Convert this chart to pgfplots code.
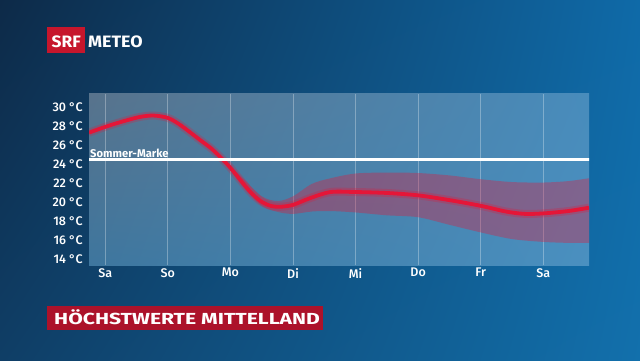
\documentclass[border=0pt]{standalone}
\usepackage{fontspec}
\setmainfont{Fira Sans}
\IfFontExistsTF{Fira Sans Medium}{\newfontfamily\medf{Fira Sans Medium}}{\newfontfamily\medf{Fira Sans}}
\usepackage{pgfplots}
\pgfplotsset{compat=1.18}
\usetikzlibrary{shadings}
\definecolor{bgTL}{RGB}{13,42,72}
\definecolor{bgTR}{RGB}{15,106,168}
\definecolor{bgBL}{RGB}{15,62,102}
\definecolor{bgBR}{RGB}{18,112,172}
\definecolor{pnTL}{RGB}{88,115,140}
\definecolor{pnTR}{RGB}{72,140,188}
\definecolor{pnBL}{RGB}{62,118,158}
\definecolor{pnBR}{RGB}{74,144,192}
\definecolor{lineRed}{RGB}{228,22,56}
\definecolor{logoRed}{RGB}{198,22,44}
\definecolor{titleRed}{RGB}{172,18,42}
\begin{document}
\begin{tikzpicture}[x=1pt,y=1pt]
\shade[upper left=bgTL, upper right=bgTR, lower left=bgBL, lower right=bgBR] (0,0) rectangle (640,360);
\shade[upper left=pnTL, upper right=pnTR, lower left=pnBL, lower right=pnBR] (89,95) rectangle (589,266.5);
\begin{axis}[
  at={(89pt,95pt)}, anchor=south west,
  scale only axis, width=500pt, height=171.5pt,
  xmin=-0.26, xmax=7.73, ymin=13.37, ymax=31.42,
  axis line style={draw=none}, tick style={draw=none},
  xtick={0,1,2,3,4,5,6,7},
  xticklabels={Sa,So,Mo,Di,Mi,Do,Fr,Sa},
  ytick={14,16,18,20,22,24,26,28,30},
  yticklabels={14 °C,16 °C,18 °C,20 °C,22 °C,24 °C,26 °C,28 °C,30 °C},
  xmajorgrids, grid style={white, opacity=0.3, line width=0.8pt},
  ticklabel style={white, font=\medf\fontsize{12.5}{13}\selectfont},
  yticklabel style={anchor=east, inner sep=0pt, xshift=-6pt},
  xticklabel style={anchor=north, inner sep=0pt, yshift=-3pt},
]
\addplot[smooth, draw=none, fill=lineRed, fill opacity=0.35] coordinates {
 (1.9,24.5) (2.2,22.5) (2.5,20.6) (2.76,20.1) (3.0,20.6) (3.3,21.9) (3.6,22.5)
 (4.0,23.0) (4.5,23.1) (5.0,23.05) (5.5,22.8) (6.0,22.4) (6.5,22.1) (7.0,22.05)
 (7.4,22.2) (7.73,22.5) (7.95,22.7)
 (7.95,15.7) (7.73,15.7) (7.4,15.7) (7.0,15.8) (6.5,16.1) (6.0,16.8) (5.5,17.6)
 (5.0,18.4) (4.5,18.6) (4.0,18.9) (3.6,19.05) (3.3,19.0) (3.0,18.75) (2.76,18.95)
 (2.5,19.6) (2.2,21.6) (1.9,24.3)} -- cycle;
\pgfplotstableread{
x y
-0.26 27.3
0.04 28.0
0.29 28.5
0.55 28.95
0.77 29.1
1.0 28.85
1.2 28.1
1.52 26.5
1.7 25.6
1.88 24.45
2.0 23.6
2.16 22.3
2.32 21.05
2.48 20.1
2.64 19.6
2.8 19.5
3.0 19.7
3.27 20.4
3.6 21.05
4.0 21.05
4.5 20.95
5.0 20.7
5.5 20.2
6.0 19.6
6.4 19.0
6.7 18.75
7.0 18.8
7.4 19.05
7.73 19.4
}\linedata
\addplot[smooth, lineRed, line width=8pt, opacity=0.25] table {\linedata};
\addplot[smooth, lineRed, line width=3.8pt] table {\linedata};
\addplot[white, line width=3.3pt] coordinates {(-0.3,24.45) (7.8,24.45)};
\node[anchor=base west, inner sep=0pt, white, font=\bfseries\fontsize{11.2}{12}\selectfont]
  at (axis cs:-0.26,24.45) [xshift=1pt, yshift=2.7pt] {Sommer-Marke};
\end{axis}
\fill[logoRed] (47,307) rectangle (85,333);
\node[anchor=base west, inner sep=0pt, white, font=\bfseries\fontsize{16.5}{17}\selectfont] at (51.5,313) {\scalebox{1.05}[1]{SRF}};
\node[anchor=base west, inner sep=0pt, white, font=\bfseries\fontsize{16.5}{17}\selectfont] at (88,313) {\scalebox{1.08}[1]{METEO}};
\fill[titleRed] (47,30) rectangle (323,54);
\node[anchor=base west, inner sep=0pt, white, font=\bfseries\fontsize{16}{16}\selectfont] at (54,36) {\scalebox{1.32}[1]{HÖCHSTWERTE MITTELLAND}};
\end{tikzpicture}
\end{document}
